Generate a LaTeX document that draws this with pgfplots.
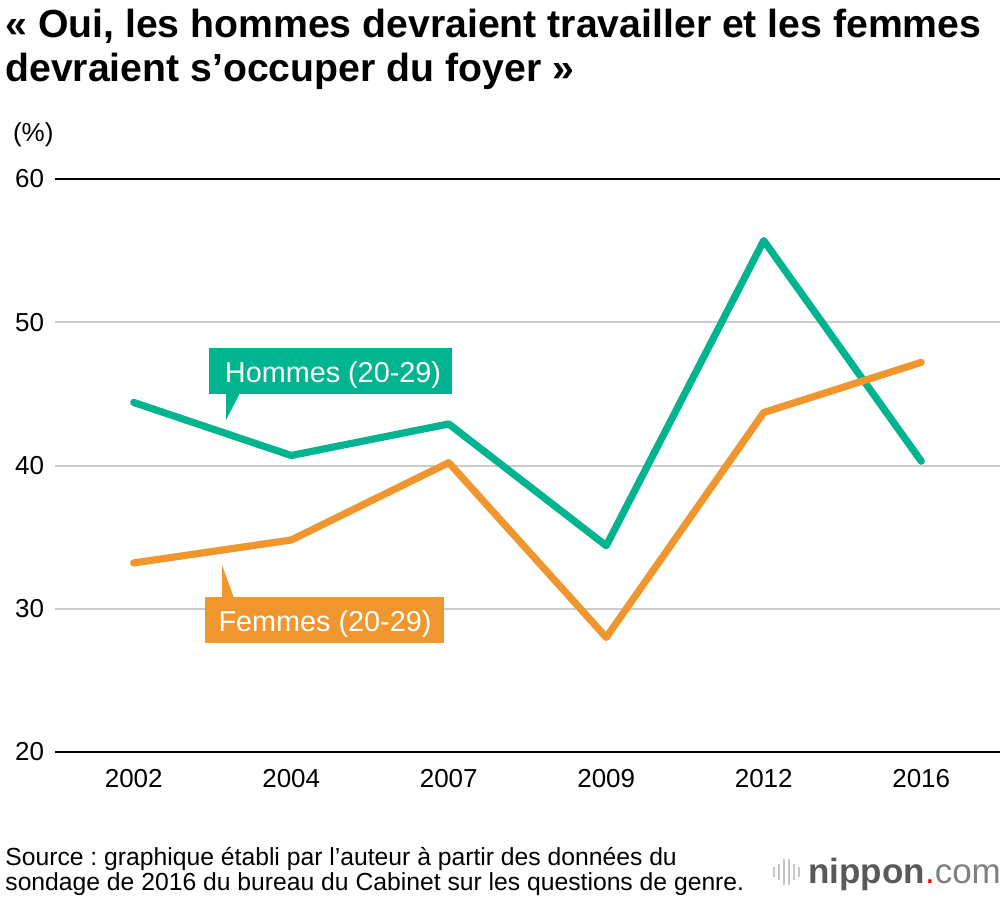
\documentclass[border=0pt]{standalone}
\usepackage{pgfplots}
\pgfplotsset{compat=1.18}
\usepackage{fontspec}
\setmainfont{Liberation Sans}
\frenchspacing
\definecolor{hcol}{HTML}{00B48F}
\definecolor{fcol}{HTML}{F0962E}
\definecolor{gridc}{HTML}{CCCCCC}
\begin{document}
\begin{tikzpicture}[x=0.5pt,y=0.5pt]
\path[use as bounding box] (0,0) rectangle (1000,902);
\begin{axis}[
  at={(27.5pt,75pt)}, anchor=south west, scale only axis,
  width=472.5pt, height=286.5pt,
  xmin=-0.5, xmax=5.5, ymin=20, ymax=60,
  axis line style={draw=none}, tick style={draw=none},
  /pgf/number format/assume math mode=true,
  ytick={30,40,50}, ymajorgrids, grid style={gridc, line width=1pt},
  extra y ticks={20,60}, extra y tick style={grid style={black, line width=1pt}},
  xtick={0,1,2,3,4,5}, xticklabels={2002,2004,2007,2009,2012,2016},
  ticklabel style={font=\fontsize{13pt}{15pt}\selectfont},
  yticklabel style={anchor=west, xshift=-23.5pt},
  xticklabel style={anchor=north, yshift=-5pt},
  clip=false,
]
\addplot[hcol, line width=3.6pt, line cap=round, line join=round] coordinates {
 (0,44.4) (1,40.7) (2,42.9) (3,34.4) (4,55.7) (5,40.3)};
\addplot[fcol, line width=3.6pt, line cap=round, line join=round] coordinates {
 (0,33.2) (1,34.8) (2,40.2) (3,28.0) (4,43.7) (5,47.2)};
\end{axis}
% (%) label
\node[anchor=west, font=\fontsize{13pt}{15pt}\selectfont] at (6,767) {(\%)};
% title
\node[anchor=base west, inner sep=0pt, font=\fontsize{19.6pt}{22pt}\selectfont\bfseries] at (5,864) {« Oui, les hommes devraient travailler et les femmes};
\node[anchor=base west, inner sep=0pt, font=\fontsize{19.6pt}{22pt}\selectfont\bfseries] at (5,820) {devraient s’occuper du foyer »};
% Hommes box
\fill[hcol] (209,508) rectangle (452,554);
\fill[hcol] (226,509) -- (240,509) -- (226,482) -- cycle;
\node[white, anchor=base, inner sep=0pt, font=\fontsize{14.4pt}{16pt}\selectfont] at (333,520) {Hommes (20-29)};
% Femmes box
\fill[fcol] (205,259) rectangle (444,305);
\fill[fcol] (222,304) -- (234,304) -- (222,337) -- cycle;
\node[white, anchor=base, inner sep=0pt, font=\fontsize{14.4pt}{16pt}\selectfont] at (325,271) {Femmes (20-29)};
% source
\node[anchor=base west, inner sep=0pt, font=\fontsize{12.35pt}{14pt}\selectfont] at (5,37) {Source : graphique établi par l’auteur à partir des données du};
\node[anchor=base west, inner sep=0pt, font=\fontsize{12.35pt}{14pt}\selectfont] at (5,12) {sondage de 2016 du bureau du Cabinet sur les questions de genre.};
% logo
\foreach \xx/\hh in {774/10,779/16,784/26,789/26,794/16,799/10}
  \fill[gray!45] (\xx-1.2,30-\hh/2) rectangle (\xx+1.2,30+\hh/2);
\node[anchor=base west, inner sep=0pt, font=\fontsize{17.5pt}{19pt}\selectfont] at (808,19)
  {\textcolor{black!65}{\bfseries nippon}\textcolor{red}{.}\textcolor{black!50}{com}};
\end{tikzpicture}
\end{document}
